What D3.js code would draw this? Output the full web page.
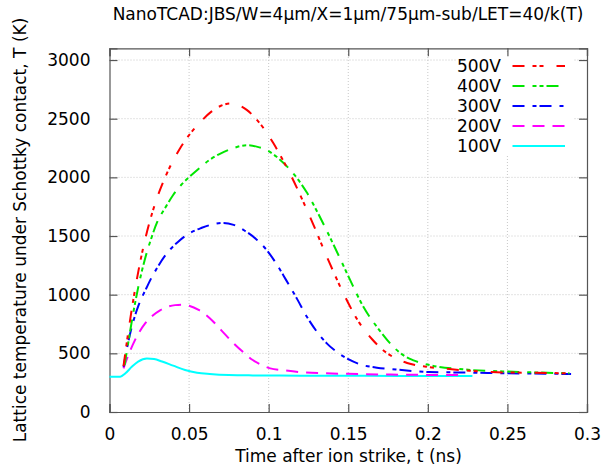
<!DOCTYPE html>
<html><head><meta charset="utf-8">
<script src="https://cdn.jsdelivr.net/npm/d3@7"></script>
<style>body{margin:0;background:#fff}svg{display:block}text{font-family:"DejaVu Sans",sans-serif;fill:#000}</style>
</head><body>
<script>
const title = "NanoTCAD:JBS/W=4μm/X=1μm/75μm-sub/LET=40/k(T)";
const xLabel = "Time after ion strike, t (ns)";
const yLabel = "Lattice temperature under Schottky contact, T (K)";
const xTicks = [0, 0.05, 0.1, 0.15, 0.2, 0.25, 0.3];
const yTicks = [0, 500, 1000, 1500, 2000, 2500, 3000];
const seriesNames = ["500V", "400V", "300V", "200V", "100V"];

const t500 = [0.0088,0.012,0.015,0.018,0.021,0.025,0.029,0.034,0.038,0.044,0.05,0.057,0.064,0.07,0.0758,0.081,0.0862,0.092,0.0978,0.103,0.110,0.116,0.1218,0.128,0.132,0.1386,0.147,0.157,0.165,0.170,0.178,0.187,0.199,0.212,0.226,0.24,0.26,0.29];
const T500 = [390,700,960,1190,1390,1610,1790,1970,2090,2240,2360,2470,2560,2610,2630,2615,2575,2500,2400,2290,2120,1960,1790,1600,1470,1260,1010,760,620,550,470,418,386,368,352,340,335,330];

const t400 = [0.0095,0.012,0.015,0.018,0.022,0.026,0.030,0.035,0.040,0.045,0.0507,0.057,0.063,0.070,0.078,0.0862,0.093,0.0988,0.105,0.111,0.118,0.124,0.130,0.1365,0.1448,0.151,0.1595,0.17,0.178,0.185,0.191,0.201,0.222,0.254,0.289];
const T400 = [400,610,850,1060,1290,1470,1620,1740,1850,1935,2010,2085,2150,2205,2250,2274,2260,2232,2175,2100,1990,1870,1720,1545,1310,1130,897,690,560,480,440,400,364,343,330];

const t300 = [0.0088,0.012,0.015,0.018,0.0235,0.0256,0.030,0.036,0.043,0.05,0.058,0.065,0.0716,0.078,0.085,0.092,0.0988,0.105,0.111,0.118,0.124,0.130,0.1365,0.143,0.15,0.159,0.168,0.18,0.19,0.201,0.22,0.25,0.29];
const T300 = [385,610,775,900,1065,1124,1230,1352,1450,1522,1570,1600,1612,1595,1545,1475,1380,1260,1124,960,812,690,585,510,450,400,378,362,350,340,337,330,324];

const t200 = [0.0088,0.012,0.016,0.0224,0.027,0.032,0.0412,0.0455,0.05,0.056,0.063,0.07,0.078,0.084,0.09,0.095,0.101,0.11,0.12,0.135,0.15,0.17,0.19,0.22];
const T200 = [372,490,613,755,820,869,911,915,905,870,800,700,585,510,443,405,372,355,340,330,325,320,317,315];

const t100 = [0,0.0067,0.01,0.014,0.018,0.0235,0.028,0.033,0.04,0.0475,0.055,0.063,0.075,0.09,0.12,0.16,0.2,0.228];
const T100 = [301,301,330,385,430,457,452,430,395,358,335,324,315,312,310,308,307,306];

const W = 611, H = 470;
const svg = d3.select("body").append("svg").attr("width", W).attr("height", H);
const x = d3.scaleLinear().domain([0, 0.3]).range([109.5, 587]);
const y = d3.scaleLinear().domain([0, 3100]).range([412, 48.3]);
const [x0, x1] = x.range(), [y0, y1] = y.range();

// grid
const grid = svg.append("g").attr("stroke", "#c8c8c8").attr("stroke-width", 1).attr("stroke-dasharray", "1,2");
grid.selectAll(".gx").data(xTicks.slice(1, -1)).join("line")
  .attr("x1", d => x(d)).attr("x2", d => x(d)).attr("y1", y0).attr("y2", y1);
grid.selectAll(".gy").data(yTicks.slice(1)).join("line")
  .attr("y1", d => y(d)).attr("y2", d => y(d)).attr("x1", x0).attr("x2", x1);

// legend background
svg.append("rect").attr("x", 456).attr("y", 53).attr("width", 118).attr("height", 102).attr("fill", "#fff");

// axes (inward ticks + mirror)
const axColor = "#555";
const axB = svg.append("g").attr("transform", `translate(0,${y0})`)
  .call(d3.axisBottom(x).tickValues(xTicks).tickSize(-8).tickPadding(16).tickFormat(d => String(d)));
const axT = svg.append("g").attr("transform", `translate(0,${y1})`)
  .call(d3.axisTop(x).tickValues(xTicks).tickSize(-8).tickFormat(""));
const axL = svg.append("g").attr("transform", `translate(${x0},0)`)
  .call(d3.axisLeft(y).tickValues(yTicks).tickSize(-8).tickPadding(19).tickFormat(d => String(d)));
const axR = svg.append("g").attr("transform", `translate(${x1},0)`)
  .call(d3.axisRight(y).tickValues(yTicks).tickSize(-8).tickFormat(""));
[axB, axT, axL, axR].forEach(g => {
  g.select(".domain").attr("stroke", axColor).attr("stroke-width", 1.2);
  g.selectAll(".tick line").attr("stroke", axColor).attr("stroke-width", 1.2);
  g.selectAll(".tick text").attr("font-family", "DejaVu Sans").attr("font-size", 17).attr("fill", "#000");
});
axB.selectAll(".tick text").attr("dy", "0.71em");

// series
const series = [
  {name: seriesNames[0], t: t500, v: T500, color: "#ff0000", dash: "12,8,4,3,4,13"},
  {name: seriesNames[1], t: t400, v: T400, color: "#00e600", dash: "12,8,4,3,4,3"},
  {name: seriesNames[2], t: t300, v: T300, color: "#0000ff", dash: "12,8,4,3"},
  {name: seriesNames[3], t: t200, v: T200, color: "#ff00ff", dash: "12,8"},
  {name: seriesNames[4], t: t100, v: T100, color: "#00ffff", dash: null}
];
const line = d3.line().x(d => x(d[0])).y(d => y(d[1])).curve(d3.curveMonotoneX);
svg.append("g").selectAll("path").data(series.slice().reverse()).join("path")
  .attr("d", s => line(s.t.map((tv, i) => [tv, s.v[i]])))
  .attr("fill", "none").attr("stroke", s => s.color).attr("stroke-width", 2)
  .attr("stroke-dasharray", s => s.dash);

// legend
const leg = svg.append("g");
series.forEach((s, i) => {
  const yy = 66 + i * 20;
  leg.append("text").attr("x", 501).attr("y", yy).attr("dy", "0.35em").attr("text-anchor", "end")
    .attr("font-size", 17).text(s.name);
  leg.append("line").attr("x1", 512.5).attr("x2", 565).attr("y1", yy).attr("y2", yy)
    .attr("stroke", s.color).attr("stroke-width", 2).attr("stroke-dasharray", s.dash);
});

// titles
svg.append("text").attr("x", 348).attr("y", 20).attr("text-anchor", "middle").attr("font-size", 17).text(title);
svg.append("text").attr("x", 348.5).attr("y", 462).attr("text-anchor", "middle").attr("font-size", 17).text(xLabel);
svg.append("text").attr("transform", "translate(26,230) rotate(-90)").attr("text-anchor", "middle").attr("font-size", 17).text(yLabel);
</script>
</body></html>
